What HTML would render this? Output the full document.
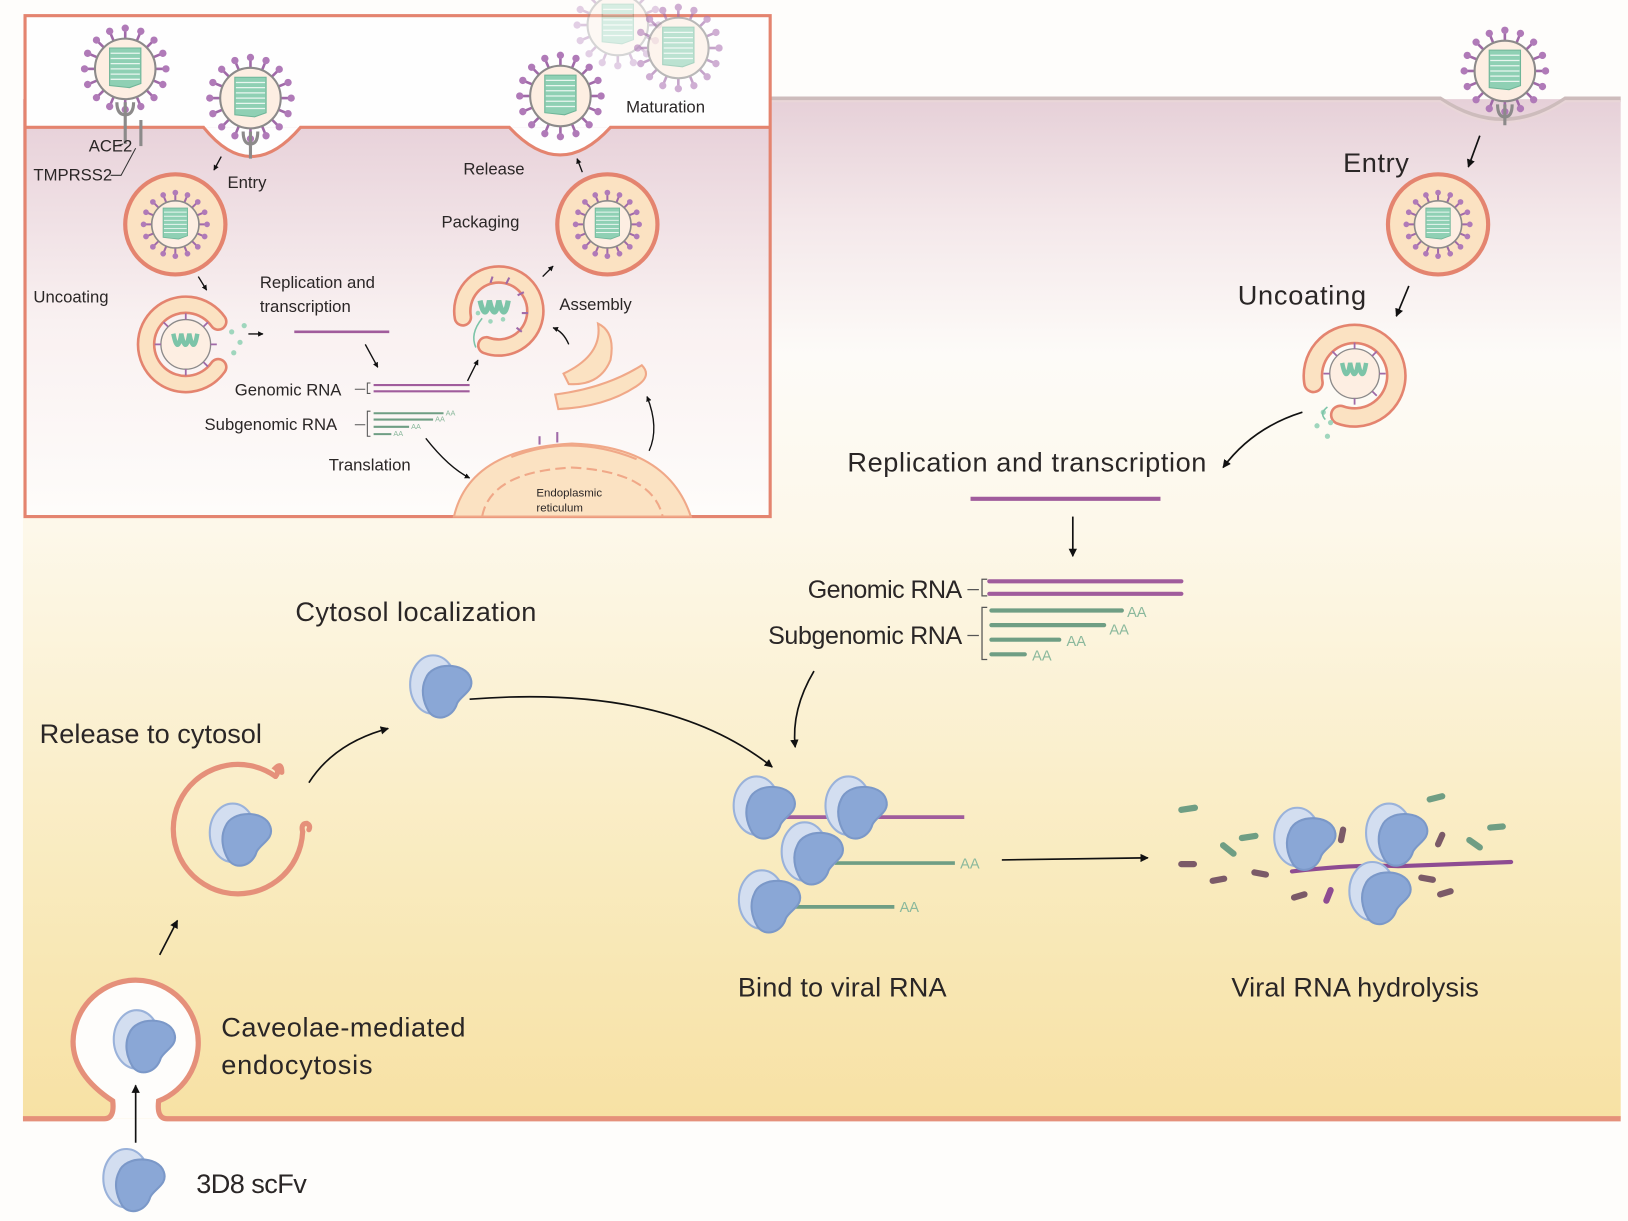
<!DOCTYPE html>
<html><head><meta charset="utf-8"><style>
html,body{margin:0;padding:0;background:#fefdfb;}
svg{display:block;}
text{font-family:"Liberation Sans",sans-serif;fill:#2a2626;}
</style></head><body>
<svg width="1628" height="1221" viewBox="0 0 1560 1170" preserveAspectRatio="none" xmlns="http://www.w3.org/2000/svg">
<defs>
<linearGradient id="cell" x1="0" y1="0" x2="0" y2="1">
<stop offset="0" stop-color="#e6d0d8"/>
<stop offset="0.12" stop-color="#f4e8ea"/>
<stop offset="0.25" stop-color="#fdfbf8"/>
<stop offset="0.42" stop-color="#fdf8ea"/>
<stop offset="0.75" stop-color="#f9ebbf"/>
<stop offset="1" stop-color="#f7e1a4"/>
</linearGradient>
<linearGradient id="inset" x1="0" y1="0" x2="0" y2="1">
<stop offset="0" stop-color="#e8d2da"/>
<stop offset="0.5" stop-color="#f9f1f1"/>
<stop offset="1" stop-color="#fefcfa"/>
</linearGradient>
<g id="spike"><line x1="0" y1="-29" x2="0" y2="-37" stroke="#a06aa8" stroke-width="2.5"/><circle cx="0" cy="-39" r="3.5" fill="#b07ab8"/></g>
<g id="vir">
<use href="#spike"/><use href="#spike" transform="rotate(22.5)"/><use href="#spike" transform="rotate(45)"/><use href="#spike" transform="rotate(67.5)"/>
<use href="#spike" transform="rotate(90)"/><use href="#spike" transform="rotate(112.5)"/><use href="#spike" transform="rotate(135)"/><use href="#spike" transform="rotate(157.5)"/>
<use href="#spike" transform="rotate(180)"/><use href="#spike" transform="rotate(202.5)"/><use href="#spike" transform="rotate(225)"/><use href="#spike" transform="rotate(247.5)"/>
<use href="#spike" transform="rotate(270)"/><use href="#spike" transform="rotate(292.5)"/><use href="#spike" transform="rotate(315)"/><use href="#spike" transform="rotate(337.5)"/>
<circle r="29" fill="#fdeee2" stroke="#8c8a8a" stroke-width="2"/>
<path d="M-15 -20 L15 -20 L15 14 L4 18 L-15 16 Z" fill="#8fd0b4" stroke="#6fb598" stroke-width="1"/>
<g stroke="#e8f6ef" stroke-width="1.2"><line x1="-14" y1="-15" x2="14" y2="-15"/><line x1="-14" y1="-10" x2="14" y2="-10"/><line x1="-14" y1="-5" x2="14" y2="-5"/><line x1="-14" y1="0" x2="14" y2="0"/><line x1="-14" y1="5" x2="14" y2="5"/><line x1="-14" y1="10" x2="14" y2="10"/></g>
</g>
<g id="core">
<circle r="28" fill="#fdeee2" stroke="#8c8a8a" stroke-width="1.5"/>
<g stroke="#a06aa8" stroke-width="2"><line x1="0" y1="-28" x2="0" y2="-35"/><line x1="20" y1="-20" x2="25" y2="-25"/><line x1="28" y1="0" x2="35" y2="0"/><line x1="20" y1="20" x2="25" y2="25"/><line x1="-20" y1="-20" x2="-25" y2="-25"/><line x1="-28" y1="0" x2="-35" y2="0"/><line x1="0" y1="28" x2="0" y2="35"/></g>
<path d="M-14 -12 q5 25 9 0 q5 25 9 0 q5 25 9 0" fill="none" stroke="#7cc4a8" stroke-width="5"/>
</g>
<g id="ves"><circle r="48" fill="#fbe2c2" stroke="#e4846f" stroke-width="4"/><use href="#vir" transform="scale(0.78)"/></g>
<g id="ab">
<ellipse cx="-7" cy="-4" rx="22" ry="28" fill="#d3def0" stroke="#9ab2da" stroke-width="2"/>
<path d="M-14 -10 C-8 -26 24 -26 29 -10 C33 2 20 6 16 14 C12 28 -4 32 -11 22 C-17 12 -19 0 -14 -10 Z" fill="#8aa7d6" stroke="#7b98c8" stroke-width="2"/>
</g>
<marker id="ah" viewBox="0 0 10 10" refX="9" refY="5" markerWidth="5" markerHeight="5" orient="auto"><path d="M0 0 L10 5 L0 10 Z" fill="#111"/></marker>
<marker id="ahs" viewBox="0 0 10 10" refX="9" refY="5" markerWidth="4" markerHeight="4" orient="auto"><path d="M0 0 L10 5 L0 10 Z" fill="#111"/></marker>
</defs>

<!-- main cell -->
<rect x="22" y="95" width="1531" height="977" fill="url(#cell)"/>
<path d="M738 95 L1380 95 Q1440 135 1500 95 L1553 95" fill="none" stroke="#cdbcbc" stroke-width="5"/>
<path d="M738 97 L1380 97 Q1440 137 1500 97 L1553 97" fill="none" stroke="#e9d6d8" stroke-width="2"/>
<use href="#vir" transform="translate(1442,68)"/>
<path d="M1442 100 v20 M1435 100 q0 12 7 12 q7 0 7 -12" fill="none" stroke="#8c8a8a" stroke-width="3"/>

<!-- bottom membrane & caveola -->
<path d="M22 1072 L100 1072 Q110 1072 108 1055 Q70 1030 70 998 A60 60 0 1 1 152 1055 Q150 1072 160 1072 L1553 1072" fill="#fefdfb" stroke="#e5907a" stroke-width="5"/>
<rect x="22" y="1075" width="1531" height="3" fill="#fefdfb"/>

<!-- inset -->
<rect x="24" y="15" width="714" height="480" fill="#fefefe"/>
<rect x="24" y="122" width="714" height="373" fill="url(#inset)"/>
<path d="M24 122 L195 122 Q240 178 288 122 L488 122 Q537 175 585 122 L738 122" fill="#fefefe" stroke="#e4846f" stroke-width="3"/>
<rect x="24" y="15" width="714" height="480" fill="none" stroke="#e4846f" stroke-width="3"/>
<g opacity="0.35"><use href="#vir" transform="translate(592,24)"/></g>
<g opacity="0.6"><use href="#vir" transform="translate(650,46)"/></g>
<use href="#vir" transform="translate(120,66)"/>
<path d="M120 98 v40 M112 98 q0 12 8 12 q8 0 8 -12" fill="none" stroke="#8c8a8a" stroke-width="3"/>
<line x1="135" y1="115" x2="135" y2="140" stroke="#8c8a8a" stroke-width="3"/>
<use href="#vir" transform="translate(240,94)"/>
<path d="M240 126 v26 M233 126 q0 12 7 12 q7 0 7 -12" fill="none" stroke="#8c8a8a" stroke-width="3"/>
<use href="#vir" transform="translate(537,92)"/>
<path d="M110 140 L118 138 M106 168 L116 168 L130 142" fill="none" stroke="#333" stroke-width="1"/>
<use href="#ves" transform="translate(168,215)"/>
<use href="#ves" transform="translate(582,215)"/>
<!-- uncoating vesicle (inset) -->
<path d="M209.1 308.2 A38 38 0 1 0 209.1 351.8" fill="none" stroke="#e4846f" stroke-width="18" stroke-linecap="round"/>
<path d="M209.1 308.2 A38 38 0 1 0 209.1 351.8" fill="none" stroke="#fbe2c2" stroke-width="13" stroke-linecap="round"/>
<use href="#core" transform="translate(178,330) scale(0.85)"/>
<g fill="#9fd6bd"><circle cx="222" cy="318" r="2.5"/><circle cx="230" cy="328" r="2.5"/><circle cx="224" cy="338" r="2.5"/><circle cx="234" cy="312" r="2.5"/></g>
<!-- assembly vesicle -->
<path d="M443.5 304.1 A35 35 0 1 1 466 330.9" fill="none" stroke="#e4846f" stroke-width="18" stroke-linecap="round"/>
<path d="M443.5 304.1 A35 35 0 1 1 466 330.9" fill="none" stroke="#fbe2c2" stroke-width="13" stroke-linecap="round"/>
<g stroke="#a06aa8" stroke-width="2"><line x1="470" y1="271" x2="472" y2="265"/><line x1="485" y1="272" x2="488" y2="266"/><line x1="496" y1="283" x2="502" y2="280"/><line x1="500" y1="300" x2="506" y2="300"/><line x1="495" y1="314" x2="500" y2="318"/></g>
<path d="M460 288 q5 22 9 0 q5 22 9 0 q5 22 9 0" fill="none" stroke="#7cc4a8" stroke-width="5"/>
<g fill="#9fd6bd"><circle cx="458" cy="300" r="2.2"/><circle cx="470" cy="308" r="2.2"/><circle cx="482" cy="306" r="2.2"/></g>
<path d="M462 305 q-12 15 -6 28" fill="none" stroke="#7cc4a8" stroke-width="1.5"/>
<!-- ER -->
<path d="M540 358 Q578 340 573 310 Q590 318 585 345 Q575 370 545 368 Z" fill="#fbe2c2" stroke="#f0a888" stroke-width="2"/>
<path d="M532 378 Q580 372 615 350 Q625 360 610 370 Q580 390 535 392 Z" fill="#fbe2c2" stroke="#f0a888" stroke-width="2"/>
<path d="M435 495 Q450 430 548 425 Q640 428 662 495 Z" fill="#fbe2c2" stroke="#f0a888" stroke-width="2"/>
<path d="M490 438 Q548 415 610 440" fill="none" stroke="#f0a888" stroke-width="2"/>
<path d="M462 495 Q470 452 548 448 Q625 452 635 495" fill="none" stroke="#f0a888" stroke-width="2" stroke-dasharray="10 5"/>
<g stroke="#a06aa8" stroke-width="2"><line x1="517" y1="418" x2="517" y2="426"/><line x1="534" y1="414" x2="534" y2="424"/></g>
<!-- inset RNA -->
<line x1="282" y1="318" x2="373" y2="318" stroke="#a05c9c" stroke-width="2.5"/>
<g stroke="#a05c9c" stroke-width="2"><line x1="358" y1="369" x2="450" y2="369"/><line x1="358" y1="375" x2="450" y2="375"/></g>
<g stroke="#6f9e84" stroke-width="2"><line x1="358" y1="396" x2="425" y2="396"/><line x1="358" y1="402" x2="415" y2="402"/><line x1="358" y1="409" x2="392" y2="409"/><line x1="358" y1="416" x2="375" y2="416"/></g>
<path d="M340 373 H350 M355 367 h-3 v10 h3 M340 407 H350 M355 394 h-3 v24 h3" fill="none" stroke="#555" stroke-width="1"/>
<g font-size="7"><text x="427" y="398" style="fill:#8ab89c">AA</text><text x="417" y="404" style="fill:#8ab89c">AA</text><text x="394" y="411" style="fill:#8ab89c">AA</text><text x="377" y="418" style="fill:#8ab89c">AA</text></g>
<g fill="none" stroke="#111" stroke-width="1.3">
<path d="M212 150 L205 163" marker-end="url(#ahs)"/>
<path d="M190 265 L198 278" marker-end="url(#ahs)"/>
<path d="M238 320 L252 320" marker-end="url(#ahs)"/>
<path d="M350 330 L362 352" marker-end="url(#ahs)"/>
<path d="M448 365 L458 345" marker-end="url(#ahs)"/>
<path d="M520 265 L530 255" marker-end="url(#ahs)"/>
<path d="M558 165 L553 152" marker-end="url(#ahs)"/>
<path d="M545 330 Q540 318 530 314" marker-end="url(#ahs)"/>
<path d="M408 420 Q430 448 450 458" marker-end="url(#ahs)"/>
<path d="M622 432 Q632 410 620 380" marker-end="url(#ahs)"/>
</g>
<g font-size="16">
<text x="85" y="145">ACE2</text>
<text x="32" y="173">TMPRSS2</text>
<text x="218" y="180">Entry</text>
<text x="444" y="167">Release</text>
<text x="600" y="108">Maturation</text>
<text x="423" y="218">Packaging</text>
<text x="32" y="290">Uncoating</text>
<text x="249" y="276">Replication and</text>
<text x="249" y="299">transcription</text>
<text x="536" y="297">Assembly</text>
<text x="225" y="379">Genomic RNA</text>
<text x="196" y="412">Subgenomic RNA</text>
<text x="315" y="451">Translation</text>
</g>
<text x="514" y="476" font-size="11">Endoplasmic</text>
<text x="514" y="490" font-size="11">reticulum</text>

<!-- right pathway -->
<use href="#ves" transform="translate(1378,215)"/>
<path d="M1258.6 366.9 A40 40 0 1 1 1284.3 397.6" fill="none" stroke="#e4846f" stroke-width="20" stroke-linecap="round"/>
<path d="M1258.6 366.9 A40 40 0 1 1 1284.3 397.6" fill="none" stroke="#fbe2c2" stroke-width="15" stroke-linecap="round"/>
<use href="#core" transform="translate(1298,358) scale(0.85)"/>
<g fill="#9fd6bd"><circle cx="1268" cy="395" r="2.5"/><circle cx="1275" cy="405" r="2.5"/><circle cx="1272" cy="418" r="2.5"/><circle cx="1262" cy="408" r="2.5"/></g>
<path d="M1272 390 q-8 6 -2 12" fill="none" stroke="#7cc4a8" stroke-width="1.5"/>
<g font-size="26">
<text x="1287" y="165" textLength="63">Entry</text>
<text x="1186" y="292" textLength="123">Uncoating</text>
<text x="812" y="452" textLength="344">Replication and transcription</text>
<text x="922" y="573" text-anchor="end" font-size="24" textLength="148">Genomic RNA</text>
<text x="922" y="617" text-anchor="end" font-size="24" textLength="186">Subgenomic RNA</text>
<text x="283" y="595" textLength="231">Cytosol localization</text>
<text x="38" y="712" textLength="213">Release to cytosol</text>
<text x="212" y="993" textLength="234">Caveolae-mediated</text>
<text x="212" y="1029" textLength="145">endocytosis</text>
<text x="188" y="1143" textLength="106">3D8 scFv</text>
<text x="707" y="955" textLength="200">Bind to viral RNA</text>
<text x="1180" y="955" textLength="237">Viral RNA hydrolysis</text>
</g>
<line x1="930" y1="478" x2="1112" y2="478" stroke="#a05c9c" stroke-width="4"/>
<g stroke="#a05c9c" stroke-width="4" stroke-linecap="round"><line x1="948" y1="557" x2="1132" y2="557"/><line x1="948" y1="569" x2="1132" y2="569"/></g>
<g stroke="#6f9e84" stroke-width="4" stroke-linecap="round"><line x1="950" y1="585" x2="1075" y2="585"/><line x1="950" y1="599" x2="1058" y2="599"/><line x1="950" y1="613" x2="1015" y2="613"/><line x1="950" y1="627" x2="982" y2="627"/></g>
<path d="M927 565 H938 M946 555 h-5 v16 h5 M927 609 H938 M946 582 h-5 v50 h5" fill="none" stroke="#555" stroke-width="1.2"/>
<g font-size="14"><text x="1080" y="591" style="fill:#8ab89c">AA</text><text x="1063" y="608" style="fill:#8ab89c">AA</text><text x="1022" y="619" style="fill:#8ab89c">AA</text><text x="989" y="633" style="fill:#8ab89c">AA</text></g>

<!-- antibodies -->
<use href="#ab" transform="translate(422,660)"/>
<!-- release vesicle -->
<path d="M264 744 A62 62 0 1 0 290 797" fill="none" stroke="#e5907a" stroke-width="5" stroke-linecap="round"/>
<path d="M264 744 q4 -5 0 -8 q6 -6 6 4" fill="none" stroke="#e5907a" stroke-width="5" stroke-linecap="round"/>
<path d="M290 797 q-2 -8 4 -8 q4 2 2 6" fill="none" stroke="#e5907a" stroke-width="5" stroke-linecap="round"/>
<use href="#ab" transform="translate(230,802)"/>
<use href="#ab" transform="translate(138,1000)"/>
<use href="#ab" transform="translate(128,1133)"/>

<line x1="750" y1="783" x2="924" y2="783" stroke="#a05c9c" stroke-width="3.5"/>
<line x1="800" y1="827" x2="915" y2="827" stroke="#6f9e84" stroke-width="3.5"/>
<line x1="760" y1="869" x2="857" y2="869" stroke="#6f9e84" stroke-width="3.5"/>
<g font-size="14"><text x="920" y="832" style="fill:#8ab89c">AA</text><text x="862" y="874" style="fill:#8ab89c">AA</text></g>
<use href="#ab" transform="translate(732,776)"/>
<use href="#ab" transform="translate(820,776)"/>
<use href="#ab" transform="translate(778,820)"/>
<use href="#ab" transform="translate(737,866)"/>

<path d="M1238 835 Q1300 828 1340 830 Q1400 828 1448 826" fill="none" stroke="#8e4c92" stroke-width="4" stroke-linecap="round"/>
<g stroke-width="6" stroke-linecap="round">
<line x1="1132" y1="776" x2="1145" y2="774" stroke="#6f9e84"/>
<line x1="1190" y1="803" x2="1203" y2="801" stroke="#6f9e84"/>
<line x1="1172" y1="810" x2="1182" y2="818" stroke="#6f9e84"/>
<line x1="1370" y1="766" x2="1382" y2="763" stroke="#6f9e84"/>
<line x1="1408" y1="805" x2="1418" y2="812" stroke="#6f9e84"/>
<line x1="1428" y1="793" x2="1440" y2="792" stroke="#6f9e84"/>
<line x1="1132" y1="828" x2="1144" y2="828" stroke="#7b5a68"/>
<line x1="1162" y1="844" x2="1173" y2="842" stroke="#7b5a68"/>
<line x1="1202" y1="836" x2="1213" y2="838" stroke="#7b5a68"/>
<line x1="1287" y1="795" x2="1285" y2="805" stroke="#7b5a68"/>
<line x1="1382" y1="800" x2="1378" y2="809" stroke="#7b5a68"/>
<line x1="1362" y1="841" x2="1373" y2="843" stroke="#7b5a68"/>
<line x1="1380" y1="857" x2="1390" y2="854" stroke="#7b5a68"/>
<line x1="1240" y1="860" x2="1250" y2="857" stroke="#7b5a68"/>
<line x1="1275" y1="853" x2="1271" y2="863" stroke="#8e4c92"/>
</g>
<use href="#ab" transform="translate(1250,806)"/>
<use href="#ab" transform="translate(1338,802)"/>
<use href="#ab" transform="translate(1322,858)"/>

<!-- arrows -->
<g fill="none" stroke="#111" stroke-width="1.6">
<path d="M1418 130 L1407 160" marker-end="url(#ah)"/>
<path d="M1350 274 L1338 303" marker-end="url(#ah)"/>
<path d="M1248 395 Q1200 410 1172 448" marker-end="url(#ah)"/>
<path d="M1028 495 L1028 533" marker-end="url(#ah)"/>
<path d="M780 643 Q758 680 762 716" marker-end="url(#ah)"/>
<path d="M450 670 Q640 655 740 735" marker-end="url(#ah)"/>
<path d="M296 750 Q320 712 372 698" marker-end="url(#ah)"/>
<path d="M153 915 L170 882" marker-end="url(#ah)"/>
<path d="M130 1095 L130 1040" marker-end="url(#ah)"/>
<path d="M960 824 L1100 822" marker-end="url(#ah)"/>
</g>
</svg>
</body></html>
